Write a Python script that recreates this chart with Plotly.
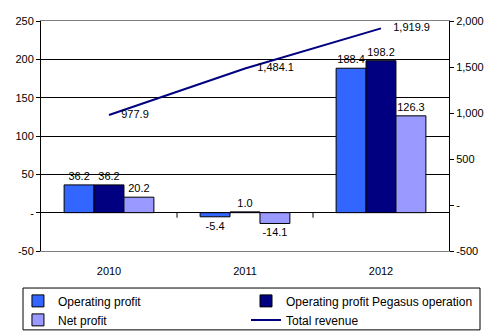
import plotly.graph_objects as go

years = ["2010", "2011", "2012"]
operating_profit = [36.2, -5.4, 188.4]
operating_profit_pegasus = [36.2, 1.0, 198.2]
net_profit = [20.2, -14.1, 126.3]
total_revenue = [977.9, 1484.1, 1919.9]

left_ticks = [-50, 0, 50, 100, 150, 200, 250]
left_labels = ["-50", "-", "50", "100", "150", "200", "250"]
right_ticks = [-500, 0, 500, 1000, 1500, 2000]
right_labels = ["-500", "-", "500", "1,000", "1,500", "2,000"]

FONT = "Liberation Sans, Arial, sans-serif"

fig = go.Figure()

def add_bar(name, values, color, legend):
    fig.add_trace(go.Bar(
        x=years, y=values, name=name, legend=legend,
        marker=dict(color=color, line=dict(color="black", width=1)),
        text=[f"{v:.1f}" for v in values], textposition="outside",
        textfont=dict(family=FONT, size=11, color="black"),
        cliponaxis=False,
    ))

add_bar("Operating profit", operating_profit, "#3366FF", "legend")
add_bar("Operating profit Pegasus operation", operating_profit_pegasus, "#000080", "legend2")
add_bar("Net profit", net_profit, "#9999FF", "legend")

fig.add_trace(go.Scatter(
    x=years, y=total_revenue, name="Total revenue", yaxis="y2", legend="legend2",
    mode="lines+markers+text", line=dict(color="#000080", width=2),
    marker=dict(size=18, color="rgba(0,0,0,0)"),
    text=[f"{v:,.1f}" for v in total_revenue], textposition="middle right",
    textfont=dict(family=FONT, size=11, color="black"),
    cliponaxis=False,
))

# Category boundary ticks on the zero line
for b in [0.5, 1.5]:
    fig.add_shape(type="line", xref="x", yref="y", x0=b, x1=b,
                  ysizemode="pixel", yanchor=0, y0=0, y1=-5,
                  line=dict(color="black", width=1))

# Frame around the two legend columns
fig.add_shape(type="rect", xref="paper", yref="paper",
              x0=-0.0441, x1=1.076, y0=-0.343, y1=-0.161,
              line=dict(color="black", width=1), fillcolor="rgba(0,0,0,0)")

legend_style = dict(
    orientation="v", xref="container", yref="container",
    xanchor="left", yanchor="top", borderwidth=0,
    font=dict(family=FONT, size=12, color="black"),
    bgcolor="rgba(0,0,0,0)", itemwidth=30, tracegroupgap=0,
)

fig.update_layout(
    width=499, height=333,
    margin=dict(l=41, r=50, t=21, b=82, autoexpand=False),
    paper_bgcolor="white", plot_bgcolor="white",
    font=dict(family=FONT, size=11, color="black"),
    barmode="group", bargap=0.34, bargroupgap=0,
    showlegend=True,
    legend=dict(legend_style, x=0.036, y=0.14),
    legend2=dict(legend_style, x=0.493, y=0.14),
    xaxis=dict(
        type="category", range=[-0.5, 2.5],
        showline=True, linecolor="#808080", linewidth=1, mirror=True,
        ticks="", showgrid=False, ticklabelstandoff=10,
        tickfont=dict(family=FONT, size=11),
    ),
    yaxis=dict(
        range=[-50, 250], tickvals=left_ticks, ticktext=left_labels,
        showline=True, linecolor="black", linewidth=1,
        ticks="outside", ticklen=4, tickcolor="black",
        showgrid=True, gridcolor="black", gridwidth=1,
        zeroline=True, zerolinecolor="black", zerolinewidth=1,
        tickfont=dict(family=FONT, size=11),
    ),
    yaxis2=dict(
        range=[-500, 2000], tickvals=right_ticks, ticktext=right_labels,
        overlaying="y", side="right",
        showline=True, linecolor="black", linewidth=1,
        ticks="outside", ticklen=4, tickcolor="black",
        showgrid=False, zeroline=False,
        tickfont=dict(family=FONT, size=11),
    ),
)

fig.write_html("out.html")
